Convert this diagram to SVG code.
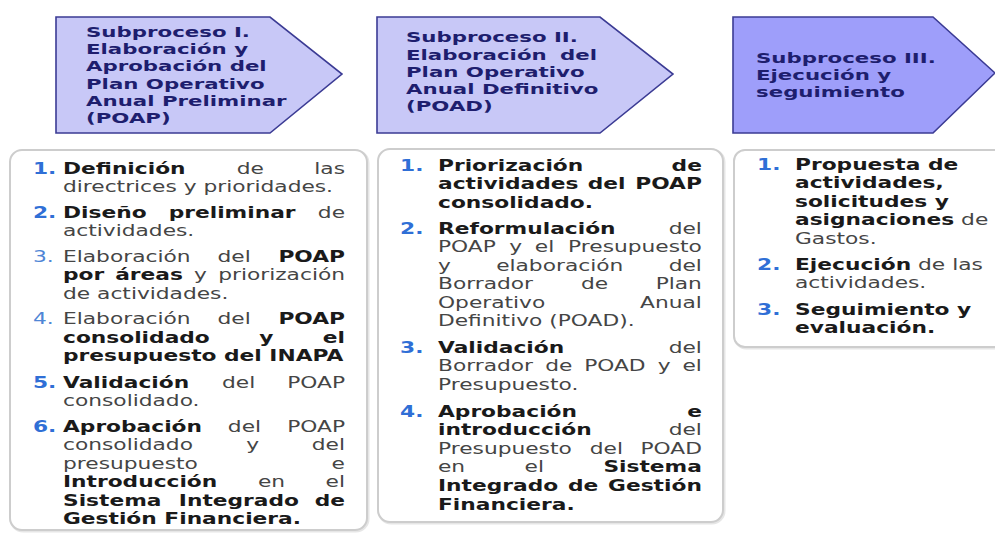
<svg xmlns="http://www.w3.org/2000/svg" width="995" height="533" viewBox="0 0 995 533">
<style>
.hd{stroke:#3b3b94;stroke-width:1.6;stroke-linejoin:miter}
.h1{fill:#c8c8f7}
.h3{fill:#9e9efa}
.box{fill:#fff;stroke:#cdcdcd;stroke-width:2}
.sh{fill:none;stroke:#e6e6e6;stroke-width:3}
.ht{font-family:"DejaVu Sans",Verdana,sans-serif;font-weight:bold;font-size:14.7px;fill:#1e1e6e}
.t{font-family:"DejaVu Sans",Verdana,sans-serif;font-size:15px;fill:#454545}
.b{font-weight:bold;fill:#1a1a1a}
.n{font-weight:bold;fill:#2f6fd6}
.nl{fill:#4f86d6}
.e{text-anchor:end}
</style>
<rect width="995" height="533" fill="#fff"/>

<g id="header1">
<polygon class="hd h1" points="56,17 270,17 342,74 270,133 56,133"/>
<g transform="translate(86,0) scale(1.45,1)">
<text class="ht" x="0" y="37.3">Subproceso I.</text>
<text class="ht" x="0" y="54.4">Elaboración y</text>
<text class="ht" x="0" y="71.5">Aprobación del</text>
<text class="ht" x="0" y="88.6">Plan Operativo</text>
<text class="ht" x="0" y="105.7">Anual Preliminar</text>
<text class="ht" x="0" y="122.8">(POAP)</text>
</g>
</g>

<g id="header2">
<polygon class="hd h1" points="377,17 600,17 673,74 600,133 377,133"/>
<g transform="translate(406,0) scale(1.45,1)">
<text class="ht" x="0" y="42.3">Subproceso II.</text>
<text class="ht" x="0" y="59.6">Elaboración</text>
<text class="ht e" x="131.7" y="59.6">del</text>
<text class="ht" x="0" y="76.9">Plan Operativo</text>
<text class="ht" x="0" y="94.2">Anual Definitivo</text>
<text class="ht" x="0" y="111.5">(POAD)</text>
</g>
</g>

<g id="header3">
<polygon class="hd h3" points="733,17 933,17 995,73 933,133 733,133"/>
<g transform="translate(756,0) scale(1.45,1)">
<text class="ht" x="0" y="62.7">Subproceso III.</text>
<text class="ht" x="0" y="79.9">Ejecución y</text>
<text class="ht" x="0" y="97.1">seguimiento</text>
</g>
</g>

<g id="box1">
<rect class="sh" x="11" y="151" width="357" height="380" rx="12"/>
<rect class="box" x="10" y="150" width="357" height="380" rx="12"/>
<g transform="translate(63,0) scale(1.45,1)">
<text class="t n" x="-20.7" y="174">1.</text>
<text class="t b" x="0" y="174">Definición</text>
<text class="t" x="119.8" y="174">de</text>
<text class="t e" x="194.5" y="174">las</text>
<text class="t" x="0" y="192.5">directrices y prioridades.</text>

<text class="t n" x="-20.7" y="218">2.</text>
<text class="t b" x="0" y="218">Diseño</text>
<text class="t b" x="72.9" y="218">preliminar</text>
<text class="t e" x="194.5" y="218">de</text>
<text class="t" x="0" y="236.5">actividades.</text>

<text class="t nl" x="-20.7" y="262">3.</text>
<text class="t" x="0" y="262">Elaboración</text>
<text class="t" x="106.6" y="262">del</text>
<text class="t b e" x="194.5" y="262">POAP</text>
<text class="t b" x="0" y="280.5">por</text>
<text class="t b" x="36" y="280.5">áreas</text>
<text class="t" x="90.3" y="280.5">y</text>
<text class="t e" x="194.5" y="280.5">priorización</text>
<text class="t" x="0" y="299">de actividades.</text>

<text class="t nl" x="-20.7" y="324.5">4.</text>
<text class="t" x="0" y="324.5">Elaboración</text>
<text class="t" x="106.6" y="324.5">del</text>
<text class="t b e" x="194.5" y="324.5">POAP</text>
<text class="t b" x="0" y="343">consolidado</text>
<text class="t b" x="135.3" y="343">y</text>
<text class="t b e" x="194.5" y="343">el</text>
<text class="t b" x="0" y="361.5">presupuesto del INAPA</text>

<text class="t n" x="-20.7" y="388">5.</text>
<text class="t b" x="0" y="388">Validación</text>
<text class="t" x="109.7" y="388">del</text>
<text class="t e" x="194.5" y="388">POAP</text>
<text class="t" x="0" y="406.5">consolidado.</text>

<text class="t n" x="-20.7" y="432">6.</text>
<text class="t b" x="0" y="432">Aprobación</text>
<text class="t" x="113.7" y="432">del</text>
<text class="t e" x="194.5" y="432">POAP</text>
<text class="t" x="0" y="450.5">consolidado</text>
<text class="t" x="126.4" y="450.5">y</text>
<text class="t e" x="194.5" y="450.5">del</text>
<text class="t" x="0" y="469">presupuesto</text>
<text class="t e" x="194.5" y="469">e</text>
<text class="t b" x="0" y="487.5">Introducción</text>
<text class="t" x="134.4" y="487.5">en</text>
<text class="t e" x="194.5" y="487.5">el</text>
<text class="t b" x="0" y="506">Sistema</text>
<text class="t b" x="79.9" y="506">Integrado</text>
<text class="t b e" x="194.5" y="506">de</text>
<text class="t b" x="0" y="524.5">Gestión Financiera.</text>
</g>
</g>

<g id="box2">
<rect class="sh" x="379" y="150" width="345" height="373" rx="12"/>
<rect class="box" x="378" y="149" width="345" height="373" rx="12"/>
<g transform="translate(438,0) scale(1.45,1)">
<text class="t n" x="-26.2" y="171">1.</text>
<text class="t b" x="0" y="171">Priorización</text>
<text class="t b e" x="182" y="171">de</text>
<text class="t b" x="0" y="189.5">actividades</text>
<text class="t b" x="103.3" y="189.5">del</text>
<text class="t b e" x="182" y="189.5">POAP</text>
<text class="t b" x="0" y="208">consolidado.</text>

<text class="t n" x="-26.2" y="234">2.</text>
<text class="t b" x="0" y="234">Reformulación</text>
<text class="t e" x="182" y="234">del</text>
<text class="t" x="0" y="252.5">POAP</text>
<text class="t" x="49.1" y="252.5">y</text>
<text class="t" x="66.8" y="252.5">el</text>
<text class="t e" x="182" y="252.5">Presupuesto</text>
<text class="t" x="0" y="271">y</text>
<text class="t" x="40.1" y="271">elaboración</text>
<text class="t e" x="182" y="271">del</text>
<text class="t" x="0" y="289.5">Borrador</text>
<text class="t" x="98.6" y="289.5">de</text>
<text class="t e" x="182" y="289.5">Plan</text>
<text class="t" x="0" y="308">Operativo</text>
<text class="t e" x="182" y="308">Anual</text>
<text class="t" x="0" y="326.5">Definitivo (POAD).</text>

<text class="t n" x="-26.2" y="353">3.</text>
<text class="t b" x="0" y="353">Validación</text>
<text class="t e" x="182" y="353">del</text>
<text class="t" x="0" y="371.5">Borrador</text>
<text class="t" x="74" y="371.5">de</text>
<text class="t" x="100.8" y="371.5">POAD</text>
<text class="t" x="151.6" y="371.5">y</text>
<text class="t e" x="182" y="371.5">el</text>
<text class="t" x="0" y="390">Presupuesto.</text>

<text class="t n" x="-26.2" y="417">4.</text>
<text class="t b" x="0" y="417">Aprobación</text>
<text class="t b e" x="182" y="417">e</text>
<text class="t b" x="0" y="435.5">introducción</text>
<text class="t e" x="182" y="435.5">del</text>
<text class="t" x="0" y="454">Presupuesto</text>
<text class="t" x="104.7" y="454">del</text>
<text class="t e" x="182" y="454">POAD</text>
<text class="t" x="0" y="472.5">en</text>
<text class="t" x="59.7" y="472.5">el</text>
<text class="t b e" x="182" y="472.5">Sistema</text>
<text class="t b" x="0" y="491">Integrado</text>
<text class="t b" x="89.7" y="491">de</text>
<text class="t b e" x="182" y="491">Gestión</text>
<text class="t b" x="0" y="509.5">Financiera.</text>
</g>
</g>

<g id="box3">
<rect class="sh" x="735" y="151" width="275" height="197" rx="11"/>
<rect class="box" x="734" y="150" width="275" height="197" rx="11"/>
<g transform="translate(795,0) scale(1.45,1)">
<text class="t n" x="-26.2" y="170">1.</text>
<text class="t b" x="0" y="170">Propuesta de</text>
<text class="t b" x="0" y="188.5">actividades,</text>
<text class="t b" x="0" y="207">solicitudes y</text>
<text class="t" x="0" y="225.5"><tspan class="b">asignaciones</tspan> de</text>
<text class="t" x="0" y="244">Gastos.</text>

<text class="t n" x="-26.2" y="270">2.</text>
<text class="t" x="0" y="270"><tspan class="b">Ejecución</tspan> de las</text>
<text class="t" x="0" y="288.5">actividades.</text>

<text class="t n" x="-26.2" y="315">3.</text>
<text class="t b" x="0" y="315">Seguimiento y</text>
<text class="t b" x="0" y="333.5">evaluación.</text>
</g>
</g>
</svg>
